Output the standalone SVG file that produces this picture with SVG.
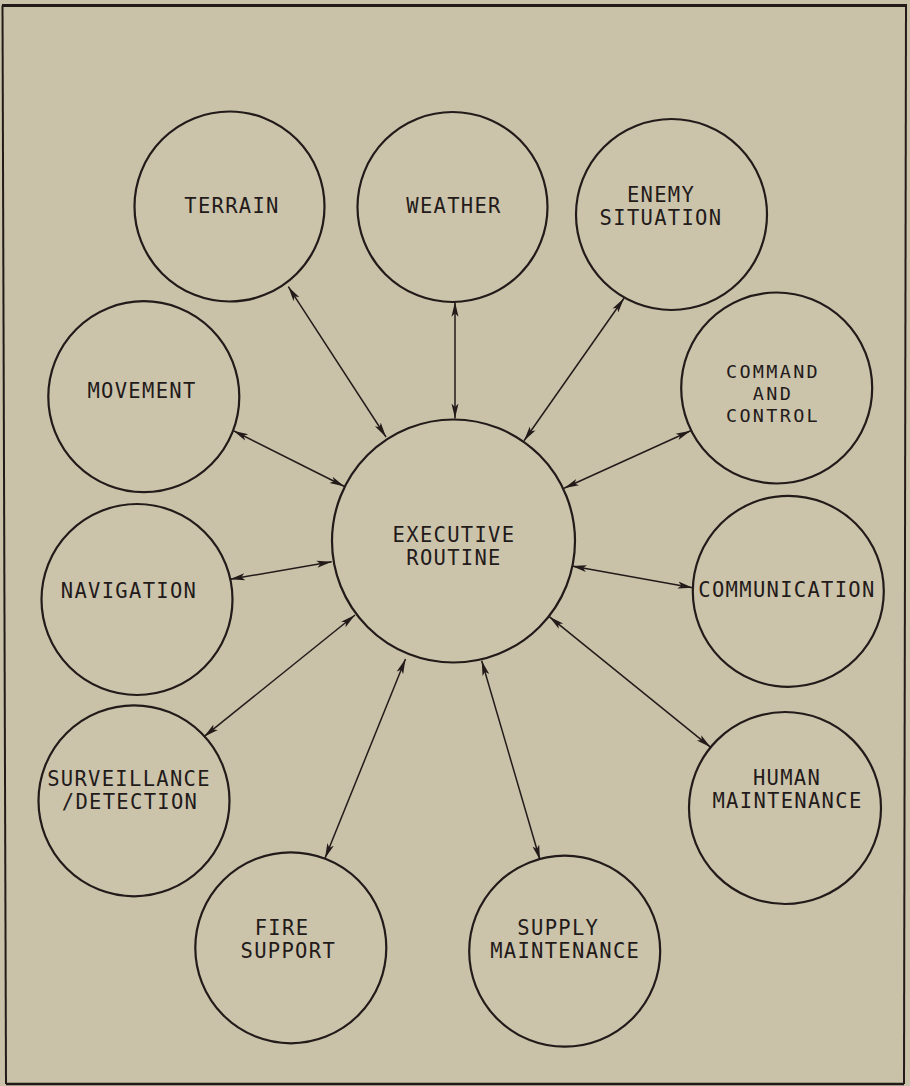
<svg xmlns="http://www.w3.org/2000/svg" width="910" height="1086" viewBox="0 0 910 1086">
<style>
.bg{fill:#c9c2a8}
.node circle{fill:#cbc4ab;stroke:#231a1a;stroke-width:2.2}
.node text{font-family:"DejaVu Sans Mono","Liberation Mono",monospace;font-size:20.5px;letter-spacing:1.3px;fill:#231a1a;text-anchor:middle}
#command text{font-size:18.5px;letter-spacing:2.3px}
.conn line{stroke:#231a1a;stroke-width:1.5;marker-start:url(#ah);marker-end:url(#ah)}
.frame{fill:none;stroke:#231a1a;stroke-width:2}
</style>
<defs>
<marker id="ah" markerUnits="userSpaceOnUse" viewBox="0 0 15 9" refX="15" refY="4.5" markerWidth="15" markerHeight="9" orient="auto-start-reverse">
<path d="M0,1 L15,4.5 L0,8 L3.5,4.5 Z" fill="#231a1a"/>
</marker>
</defs>
<rect class="bg" x="0" y="0" width="910" height="1086"/>
<g id="frame">
<line class="frame" x1="2" y1="5.5" x2="907" y2="5.5" style="stroke-width:3"/>
<line class="frame" x1="906" y1="5.5" x2="904" y2="1084"/>
<line class="frame" x1="904" y1="1084" x2="6" y2="1084" style="stroke-width:2.5"/>
<line class="frame" x1="6" y1="1084" x2="2.5" y2="5.5"/>
</g>
<g id="connectors" class="conn">
<line x1="386" y1="437" x2="288.3" y2="286.7"/>
<line x1="455" y1="418.5" x2="455" y2="301.7"/>
<line x1="524" y1="440.7" x2="624" y2="298.3"/>
<line x1="564" y1="488.3" x2="690.7" y2="430.7"/>
<line x1="344.5" y1="486.5" x2="233.3" y2="430.7"/>
<line x1="331.7" y1="561.7" x2="230" y2="579.3"/>
<line x1="571.7" y1="566" x2="692.7" y2="587.7"/>
<line x1="549.3" y1="616.7" x2="710.7" y2="747.3"/>
<line x1="355" y1="615" x2="204" y2="736.7"/>
<line x1="405.5" y1="659" x2="325" y2="858.3"/>
<line x1="481.7" y1="660.7" x2="540" y2="860"/>
</g>
<g id="executive" class="node"><circle cx="453.5" cy="541" r="121.5"/><text x="454" y="542.3">EXECUTIVE</text><text x="454" y="565">ROUTINE</text></g>
<g id="terrain" class="node"><circle cx="229.5" cy="206.5" r="95"/><text x="232" y="212.7">TERRAIN</text></g>
<g id="weather" class="node"><circle cx="452.5" cy="207" r="95"/><text x="454" y="212.7">WEATHER</text></g>
<g id="enemy" class="node"><circle cx="671.5" cy="214.5" r="95.5"/><text x="661" y="201.7">ENEMY</text><text x="661" y="225">SITUATION</text></g>
<g id="command" class="node"><circle cx="776.7" cy="388" r="95.5"/><text x="773" y="378">COMMAND</text><text x="773" y="400">AND</text><text x="773" y="422">CONTROL</text></g>
<g id="movement" class="node"><circle cx="143.8" cy="396.7" r="95.5"/><text x="142" y="398.3">MOVEMENT</text></g>
<g id="navigation" class="node"><circle cx="137" cy="599.5" r="95.5"/><text x="129" y="597.7">NAVIGATION</text></g>
<g id="communication" class="node"><circle cx="788.3" cy="591.3" r="95.5"/><text x="787" y="597.3">COMMUNICATION</text></g>
<g id="human" class="node"><circle cx="785" cy="808" r="96"/><text x="787" y="785">HUMAN</text><text x="787.5" y="808.3">MAINTENANCE</text></g>
<g id="surveillance" class="node"><circle cx="134" cy="800.8" r="95.5"/><text x="129" y="785.7">SURVEILLANCE</text><text x="130" y="809.3">/DETECTION</text></g>
<g id="fire" class="node"><circle cx="290.8" cy="947.8" r="95.5"/><text x="282" y="935">FIRE</text><text x="288.3" y="958.3">SUPPORT</text></g>
<g id="supply" class="node"><circle cx="564.7" cy="951.2" r="95.5"/><text x="558.3" y="935">SUPPLY</text><text x="565.2" y="958.3">MAINTENANCE</text></g>
</svg>
